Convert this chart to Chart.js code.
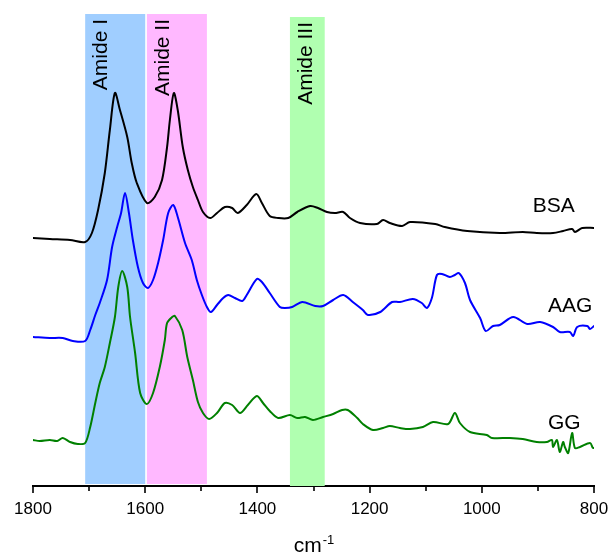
<!DOCTYPE html>
<html>
<head>
<meta charset="utf-8">
<script src="https://cdn.jsdelivr.net/npm/chart.js@4/dist/chart.umd.min.js"></script>
<style>
  html, body { margin: 0; padding: 0; background: #fff; }
  #wrap { width: 608px; height: 553px; position: relative; }
</style>
</head>
<body>
<div id="wrap"><canvas id="c" width="608" height="553"></canvas></div>
<script>
// ---- data (wavenumber in cm-1, absorbance in arbitrary offset units) ----
const bsaX = [1800,1770,1734,1707,1695,1684,1672,1663,1654,1645,1632,1624,1615,1597,1583,1570,1561,1556,1549,1542,1533,1524,1515,1506,1497,1484,1472,1458,1445,1435,1419,1402,1392,1378,1363,1345,1329,1306,1292,1276,1262,1247,1235,1217,1187,1176,1164,1142,1128,1083,1066,1026,968,927,902,873,855,839,834,821,800];
const bsaY = [2.48,2.47,2.46,2.44,2.53,2.76,3.13,3.56,3.93,3.76,3.49,3.23,3.03,2.83,2.89,3.06,3.39,3.66,3.93,3.76,3.39,3.16,2.99,2.86,2.74,2.68,2.73,2.79,2.78,2.73,2.81,2.92,2.83,2.70,2.68,2.68,2.74,2.80,2.78,2.74,2.73,2.74,2.68,2.63,2.62,2.66,2.63,2.60,2.64,2.62,2.59,2.55,2.53,2.54,2.53,2.53,2.55,2.57,2.54,2.58,2.58];

const aagX = [1800,1770,1747,1729,1707,1698,1689,1681,1668,1659,1650,1643,1636,1629,1622,1613,1604,1595,1586,1577,1568,1559,1550,1542,1529,1517,1508,1499,1490,1483,1472,1461,1452,1440,1427,1419,1401,1392,1378,1360,1351,1338,1320,1297,1283,1265,1247,1230,1212,1203,1181,1160,1146,1123,1107,1098,1089,1080,1071,1057,1048,1041,1030,1021,1003,993,980,968,944,919,896,873,861,843,837,830,812,807,800];
const aagY = [1.49,1.48,1.48,1.45,1.45,1.56,1.71,1.83,2.06,2.39,2.59,2.73,2.93,2.73,2.46,2.19,2.03,1.98,2.06,2.23,2.46,2.73,2.81,2.69,2.43,2.26,2.06,1.91,1.79,1.74,1.81,1.88,1.91,1.88,1.85,1.91,2.07,2.04,1.93,1.79,1.78,1.79,1.84,1.80,1.80,1.86,1.91,1.84,1.76,1.71,1.74,1.84,1.84,1.87,1.83,1.78,1.88,2.11,2.12,2.09,2.11,2.13,2.03,1.86,1.68,1.55,1.60,1.61,1.69,1.62,1.64,1.59,1.54,1.54,1.50,1.59,1.60,1.57,1.60];

const ggX = [1800,1788,1770,1757,1747,1734,1720,1707,1698,1689,1681,1672,1663,1654,1648,1641,1632,1627,1618,1609,1597,1586,1574,1565,1561,1552,1547,1534,1525,1515,1506,1497,1486,1472,1458,1445,1431,1417,1401,1390,1378,1363,1342,1329,1315,1301,1283,1265,1249,1239,1222,1212,1194,1176,1164,1146,1128,1105,1087,1060,1048,1039,1021,991,982,950,927,902,884,875,873,866,861,855,852,846,839,834,825,807,802,800];
const ggY = [0.46,0.45,0.46,0.45,0.48,0.44,0.42,0.43,0.59,0.83,1.03,1.19,1.43,1.69,1.99,2.15,1.99,1.69,1.33,0.93,0.82,0.93,1.19,1.46,1.63,1.69,1.70,1.56,1.29,1.06,0.84,0.73,0.67,0.73,0.83,0.81,0.73,0.81,0.90,0.83,0.75,0.68,0.71,0.68,0.69,0.66,0.69,0.72,0.76,0.76,0.68,0.62,0.56,0.58,0.60,0.58,0.57,0.59,0.64,0.62,0.73,0.63,0.54,0.51,0.48,0.48,0.47,0.44,0.44,0.46,0.39,0.46,0.34,0.44,0.39,0.33,0.53,0.38,0.39,0.43,0.38,0.38];

const seriesNames = ['BSA', 'AAG', 'GG'];
const seriesLabelX = [909, 882, 882];      // cm-1 where each name starts
const seriesLabelY = [2.74, 1.74, 0.57];   // baseline level of each name

const bandNames = ['Amide I', 'Amide II', 'Amide III'];
const bandHigh = [1707, 1597, 1342];
const bandLow  = [1600, 1490, 1280];
const bandTop  = [4.72, 4.72, 4.69];
const bandBottom = [0.02, 0.02, 0.0];

const xTicks = [1800, 1600, 1400, 1200, 1000, 800];
const xMinorTicks = [1700, 1500, 1300, 1100, 900];
const xTitle = 'cm';
const xTitleSup = '-1';

// ---- styles ----
const lineColors = ['#000000', '#0000ff', '#008000'];
const bandColors = ['rgb(160,206,255)', 'rgb(255,184,255)', 'rgb(176,255,176)'];
const FONT = '"Liberation Sans", Arial, sans-serif';

function pts(xs, ys) { return xs.map((x, i) => ({ x: x, y: ys[i] })); }

const bandsPlugin = {
  id: 'bands',
  beforeDatasetsDraw(chart) {
    const { ctx, scales: { x, y } } = chart;
    ctx.save();
    for (let i = 0; i < bandNames.length; i++) {
      const x1 = x.getPixelForValue(bandHigh[i]);
      const x2 = x.getPixelForValue(bandLow[i]);
      const y1 = y.getPixelForValue(bandTop[i]);
      const y2 = y.getPixelForValue(bandBottom[i]);
      ctx.fillStyle = bandColors[i];
      ctx.fillRect(Math.min(x1, x2), y1, Math.abs(x2 - x1), y2 - y1);
    }
    ctx.restore();
  },
  afterDatasetsDraw(chart) {
    const { ctx, scales: { x, y } } = chart;
    ctx.save();
    ctx.fillStyle = '#000';
    ctx.font = '21px ' + FONT;
    ctx.textAlign = 'right';
    ctx.textBaseline = 'alphabetic';
    for (let i = 0; i < bandNames.length; i++) {
      const bx = x.getPixelForValue(bandHigh[i]) + 22;
      const by = y.getPixelForValue(bandTop[i]) + 5;
      ctx.save();
      ctx.translate(bx, by);
      ctx.rotate(-Math.PI / 2);
      ctx.fillText(bandNames[i], 0, 0);
      ctx.restore();
    }
    // series names
    ctx.textAlign = 'left';
    for (let i = 0; i < seriesNames.length; i++) {
      ctx.fillText(seriesNames[i], x.getPixelForValue(seriesLabelX[i]), y.getPixelForValue(seriesLabelY[i]));
    }
    ctx.restore();
  },
  afterDraw(chart) {
    const { ctx, scales: { x }, chartArea } = chart;
    ctx.save();
    ctx.strokeStyle = '#000';
    ctx.lineWidth = 1.6;
    const yb = x.top;
    ctx.beginPath();
    xTicks.forEach(v => {
      const px = Math.round(x.getPixelForValue(v));
      ctx.moveTo(px, yb); ctx.lineTo(px, yb + 7);
    });
    xMinorTicks.forEach(v => {
      const px = Math.round(x.getPixelForValue(v));
      ctx.moveTo(px, yb); ctx.lineTo(px, yb + 5);
    });
    ctx.stroke();
    // axis title with superscript
    ctx.fillStyle = '#000';
    ctx.textBaseline = 'alphabetic';
    ctx.textAlign = 'left';
    ctx.font = '21px ' + FONT;
    const w1 = ctx.measureText(xTitle).width;
    ctx.font = '13px ' + FONT;
    const w2 = ctx.measureText(xTitleSup).width;
    const cx = (chartArea.left + chartArea.right) / 2;
    const sx = cx - (w1 + w2) / 2;
    ctx.font = '21px ' + FONT;
    ctx.fillText(xTitle, sx, 552);
    ctx.font = '13px ' + FONT;
    ctx.fillText(xTitleSup, sx + w1 + 1, 544);
    ctx.restore();
  }
};

new Chart(document.getElementById('c'), {
  type: 'line',
  data: {
    datasets: [
      { label: seriesNames[0], data: pts(bsaX, bsaY), borderColor: lineColors[0] },
      { label: seriesNames[1], data: pts(aagX, aagY), borderColor: lineColors[1] },
      { label: seriesNames[2], data: pts(ggX, ggY), borderColor: lineColors[2] }
    ]
  },
  options: {
    responsive: false,
    animation: false,
    events: [],
    parsing: true,
    elements: {
      point: { radius: 0 },
      line: { borderWidth: 2, tension: 0.3, borderJoinStyle: 'round', borderCapStyle: 'round', fill: false }
    },
    layout: { padding: { top: 14, left: 33, right: 14, bottom: 0 } },
    plugins: { legend: { display: false }, tooltip: { enabled: false }, title: { display: false } },
    scales: {
      x: {
        type: 'linear',
        reverse: true,
        min: 800,
        max: 1800,
        grid: { display: false, drawTicks: false },
        border: { display: true, color: '#000', width: 2 },
        ticks: {
          stepSize: 200,
          padding: 13,
          color: '#000',
          maxRotation: 0,
          autoSkip: false,
          font: { family: FONT, size: 17 },
          callback: v => (xTicks.includes(v) ? String(v) : '')
        },
        afterFit: s => { s.height = 67; s.paddingLeft = 0; s.paddingRight = 0; }
      },
      y: {
        type: 'linear',
        display: false,
        min: 0,
        max: 4.72
      }
    }
  },
  plugins: [bandsPlugin]
});
</script>
</body>
</html>
